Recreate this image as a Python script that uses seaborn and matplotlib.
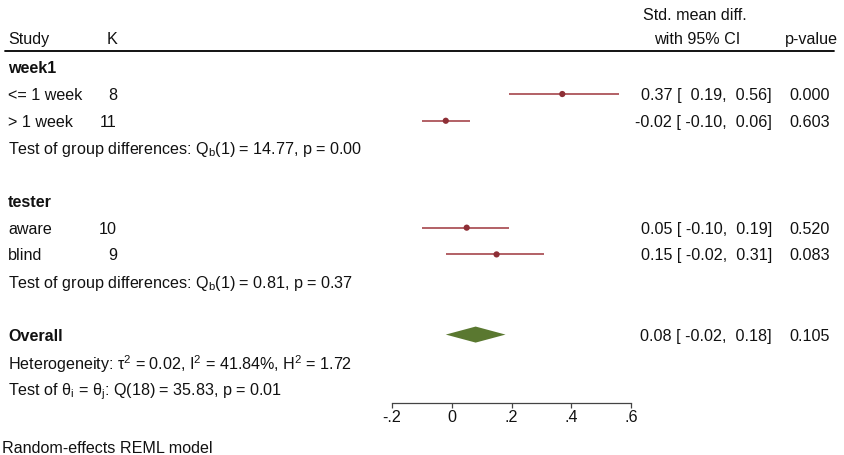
import matplotlib
matplotlib.use("Agg")
import pandas as pd
import matplotlib.pyplot as plt
import matplotlib.transforms as mtransforms
from matplotlib.ticker import FuncFormatter
import seaborn as sns

sns.set_theme(style="white")
plt.rcParams['font.family'] = ['Liberation Sans', 'DejaVu Sans']
plt.rcParams['mathtext.fontset'] = 'custom'
plt.rcParams['mathtext.rm'] = 'Liberation Sans'
plt.rcParams['mathtext.it'] = 'Liberation Sans:italic'
plt.rcParams['axes.unicode_minus'] = False

# study level rows
study_labels = ["<= 1 week", "> 1 week", "aware", "blind"]
study_k = [8, 11, 10, 9]
study_est = [0.37, -0.02, 0.05, 0.15]
study_lo = [0.19, -0.10, -0.10, -0.02]
study_hi = [0.56, 0.06, 0.19, 0.31]
study_p = [0.000, 0.603, 0.520, 0.083]
study_rows = [1, 2, 6, 7]

# subgroups
group_names = ["week1", "tester"]
group_rows = [0, 5]
group_tests = ["Test of group differences: Q$_\\mathrm{b}$(1) = 14.77, p = 0.00",
               "Test of group differences: Q$_\\mathrm{b}$(1) = 0.81, p = 0.37"]
group_test_rows = [3, 8]

# overall
overall_row = 10
overall_est = 0.08
overall_lo = -0.02
overall_hi = 0.18
overall_p = 0.105
overall_notes = ["Heterogeneity: τ$^2$ = 0.02, I$^2$ = 41.84%, H$^2$ = 1.72",
                 "Test of θ$_\\mathrm{i}$ = θ$_\\mathrm{j}$: Q(18) = 35.83, p = 0.01"]

x_ticks = [-0.2, 0, 0.2, 0.4, 0.6]

W, H = 844, 455
FS = 11.6
point_col = "#8e2f36"
line_col = "#a5464c"
diamond_col = "#5a7830"

df = pd.DataFrame({"label": study_labels, "k": study_k, "est": study_est,
                   "lo": study_lo, "hi": study_hi, "p": study_p, "row": study_rows})

fig = plt.figure(figsize=(W / 100, H / 100), dpi=100)
ax = fig.add_axes([392 / W, (H - 403) / H, 239 / W, 352 / H])
tr = mtransforms.blended_transform_factory(fig.transFigure, ax.transData)


def put(px, row, s, ha="left", **kw):
    ax.text(px / W, row, s, transform=tr, ha=ha, va="center_baseline",
            fontsize=FS, color="#111111", **kw)


ax.hlines(df["row"], df["lo"], df["hi"], color=line_col, lw=1.2, zorder=2)
sns.scatterplot(data=df, x="est", y="row", ax=ax, color=point_col, s=20,
                edgecolor="none", zorder=3, legend=False)
ax.fill([overall_lo, overall_est, overall_hi, overall_est],
        [overall_row, overall_row - 0.3, overall_row, overall_row + 0.3],
        color=diamond_col, lw=0, zorder=3)

ax.set_xlim(-0.2, 0.6)
ax.set_ylim(12.56, -0.61)
ax.set_yticks([])
ax.set_xticks(x_ticks)
ax.xaxis.set_major_formatter(FuncFormatter(
    lambda v, _: "0" if abs(v) < 1e-9 else f"{v:.1f}".replace("0.", ".")))
ax.tick_params(axis="x", direction="out", length=3.5, width=0.9, color="#444444",
               labelsize=FS, pad=1.5, bottom=True, labelcolor="#111111")
ax.set_xlabel("")
ax.set_ylabel("")
for side in ["left", "top", "right"]:
    ax.spines[side].set_visible(False)
ax.spines["bottom"].set_color("#444444")
ax.spines["bottom"].set_linewidth(0.9)

# header
put(8, -1.1, "Study")
put(117, -1.1, "K", ha="right")
put(695, -2.0, "Std. mean diff.", ha="center")
put(697, -1.1, "with 95% CI", ha="center")
put(811, -1.1, "p-value", ha="center")
ax.plot([5 / W, 834 / W], [-0.6, -0.6], transform=tr, color="black",
        lw=1.3, clip_on=False)

for name, r in zip(group_names, group_rows):
    put(8, r, name, fontweight="bold")
for txt, r in zip(group_tests, group_test_rows):
    put(8, r, txt)

for _, d in df.iterrows():
    put(8, d["row"], d["label"])
    put(117, d["row"], str(d["k"]), ha="right")
    put(772, d["row"], f"{d['est']:.2f} [{d['lo']:6.2f},{d['hi']:6.2f}]", ha="right")
    put(830, d["row"], f"{d['p']:.3f}", ha="right")

put(8, overall_row, "Overall", fontweight="bold")
put(772, overall_row, f"{overall_est:.2f} [{overall_lo:6.2f},{overall_hi:6.2f}]", ha="right")
put(830, overall_row, f"{overall_p:.3f}", ha="right")
for i, txt in enumerate(overall_notes):
    put(8, overall_row + 1 + i, txt)

fig.text(2 / W, 1 - 447 / H, "Random-effects REML model", ha="left",
         va="center_baseline", fontsize=FS, color="#111111")

fig.savefig("out.png", dpi=100, facecolor="white")
